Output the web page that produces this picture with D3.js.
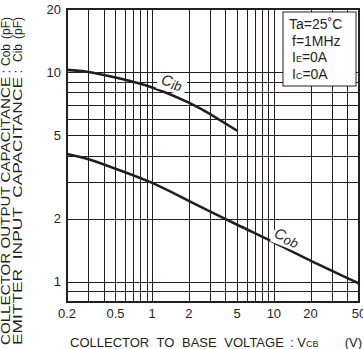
<!DOCTYPE html>
<html>
<head>
<meta charset="utf-8">
<script src="https://cdn.jsdelivr.net/npm/d3@7"></script>
<style>
  body { margin: 0; background: #fff; }
  svg { display: block; font-family: "Liberation Sans", Arial, sans-serif; }
</style>
</head>
<body>
<div id="chart"></div>
<script>
'use strict';
// curve data
var cibVolts = [0.2, 0.3, 0.5, 1, 2, 3, 5];
var cibCap   = [10.25, 10.02, 9.42, 8.45, 7.15, 6.3, 5.25];
var cobVolts = [0.2, 0.3, 0.5, 1, 2, 5, 10, 20, 50];
var cobCap   = [4.07, 3.84, 3.46, 2.96, 2.43, 1.87, 1.54, 1.26, 0.98];

// ticks and grid
var xTickLabels = [0.2, 0.5, 1, 2, 5, 10, 20, 50];
var yTickLabels = [1, 2, 5, 10, 20];
var xGridLines = [0.3, 0.4, 0.5, 0.6, 0.7, 0.8, 0.9, 1, 2, 3, 4, 5, 6, 7, 8, 9, 10, 20, 30, 40];
var yGridLines = [0.9, 1, 2, 3, 4, 5, 6, 7, 8, 9, 10];
var conditions = [['Ta=25˚C'], ['f=1MHz'], ['I', 'E', '=0A'], ['I', 'C', '=0A']];

var W = 363, H = 349;
var margin = {top: 9, right: 4, bottom: 47, left: 67},
    width = W - margin.left - margin.right,
    height = H - margin.top - margin.bottom;
var ink = '#231f20';

var svg = d3.select('#chart').append('svg')
    .attr('width', W)
    .attr('height', H);

var g = svg.append('g')
    .attr('transform', 'translate(' + margin.left + ',' + margin.top + ')');

// scales
var x = d3.scaleLog().domain([0.2, 50]).range([0, width]);
var y = d3.scaleLog().domain([0.8, 20]).range([height, 0]);

// grid
g.append('g').selectAll('line')
    .data(xGridLines)
  .enter().append('line')
    .attr('x1', function(d) { return Math.round(x(d)) + 0.5; })
    .attr('x2', function(d) { return Math.round(x(d)) + 0.5; })
    .attr('y1', 0)
    .attr('y2', height)
    .attr('stroke', ink)
    .attr('stroke-width', 1);

g.append('g').selectAll('line')
    .data(yGridLines)
  .enter().append('line')
    .attr('y1', function(d) { return Math.round(y(d)) + 0.5; })
    .attr('y2', function(d) { return Math.round(y(d)) + 0.5; })
    .attr('x1', 0)
    .attr('x2', width)
    .attr('stroke', ink)
    .attr('stroke-width', 1);

// curves
var line = d3.line()
    .x(function(d) { return x(d[0]); })
    .y(function(d) { return y(d[1]); })
    .curve(d3.curveNatural);

g.append('path')
    .datum(d3.zip(cibVolts, cibCap))
    .attr('fill', 'none')
    .attr('stroke', ink)
    .attr('stroke-width', 2.6)
    .attr('d', line);

g.append('path')
    .datum(d3.zip(cobVolts, cobCap))
    .attr('fill', 'none')
    .attr('stroke', ink)
    .attr('stroke-width', 2.6)
    .attr('d', line);

// curve labels with white patches behind
function curveLabel(main, sub, vx, vy, angle, dx, dy) {
  var lg = g.append('g')
      .attr('transform', 'translate(' + (x(vx) + dx) + ',' + (y(vy) + dy) + ') rotate(' + angle + ')');
  lg.append('rect')
      .attr('x', -14).attr('y', -11)
      .attr('width', 29).attr('height', 16)
      .attr('fill', '#fff');
  var t = lg.append('text')
      .attr('text-anchor', 'middle')
      .attr('font-size', 15)
      .attr('font-style', 'italic')
      .attr('fill', ink);
  t.append('tspan').text(main);
  t.append('tspan').attr('font-size', 13).attr('dy', 2).text(sub);
}
curveLabel('C', 'ib', 1.5, 8.5, 14, -3, 0);
curveLabel('C', 'ob', 10, 1.75, 22, 11, 11);

// frame
g.append('rect')
    .attr('width', width)
    .attr('height', height)
    .attr('fill', 'none')
    .attr('stroke', ink)
    .attr('stroke-width', 2);

// conditions box
var box = g.append('g').attr('transform', 'translate(216,3)');
box.append('rect')
    .attr('width', 73).attr('height', 74)
    .attr('fill', '#fff')
    .attr('stroke', ink)
    .attr('stroke-width', 1);
box.selectAll('text')
    .data(conditions)
  .enter().append('text')
    .attr('x', function(d, i) { return i === 0 ? 6 : 9; })
    .attr('y', function(d, i) { return 17 + i * 16.7; })
    .attr('font-size', 14)
    .attr('fill', ink)
    .each(function(d) {
      var t = d3.select(this);
      if (d.length === 1) { t.text(d[0]); return; }
      t.append('tspan').text(d[0]);
      t.append('tspan').attr('font-size', 9).text(d[1]);
      t.append('tspan').text(d[2]);
    });

// axes tick labels
g.append('g').selectAll('text')
    .data(xTickLabels)
  .enter().append('text')
    .attr('x', function(d) { return x(d); })
    .attr('y', height + 16)
    .attr('text-anchor', 'middle')
    .attr('font-size', 13)
    .attr('fill', ink)
    .text(function(d) { return d; });

g.append('g').selectAll('text')
    .data(yTickLabels)
  .enter().append('text')
    .attr('x', -6)
    .attr('y', function(d) { return y(d); })
    .attr('dy', '0.35em')
    .attr('text-anchor', 'end')
    .attr('font-size', 13)
    .attr('fill', ink)
    .text(function(d) { return d; });

// x axis title
svg.append('text')
    .attr('x', 70)
    .attr('y', 347)
    .attr('font-size', 13)
    .attr('word-spacing', 4)
    .attr('fill', ink)
    .text('COLLECTOR TO BASE VOLTAGE');
var xt = svg.append('text')
    .attr('x', 290)
    .attr('y', 347)
    .attr('font-size', 13)
    .attr('fill', ink);
xt.append('tspan').text(': V');
xt.append('tspan').attr('font-size', 9).text('CB');
svg.append('text')
    .attr('x', 362)
    .attr('y', 347)
    .attr('text-anchor', 'end')
    .attr('font-size', 13)
    .attr('fill', ink)
    .text('(V)');

// y axis title, two lines in aligned pieces (datasheet type is tall and narrow)
var yLines = [
  {base: 10, head: 'COLLECTOR OUTPUT CAPACITANCE', sym: 'Cob'},
  {base: 22, head: 'EMITTER  INPUT  CAPACITANCE', sym: 'Cib'}
];
var yt = svg.append('g').attr('transform', 'rotate(-90)');
yLines.forEach(function(l) {
  var pieces = [
    {t: '(pF)', end: 17},
    {t: l.sym, end: 44},
    {t: ':', end: 70},
    {t: l.head, end: 77, len: 268}
  ];
  pieces.forEach(function(p) {
    var t = yt.append('text')
        .attr('x', -p.end)
        .attr('y', l.base)
        .attr('text-anchor', 'end')
        .attr('font-size', 12)
        .attr('fill', ink)
        .attr('xml:space', 'preserve')
        .text(p.t);
    if (p.len) t.attr('textLength', p.len).attr('lengthAdjust', 'spacingAndGlyphs');
  });
});
</script>
</body>
</html>
